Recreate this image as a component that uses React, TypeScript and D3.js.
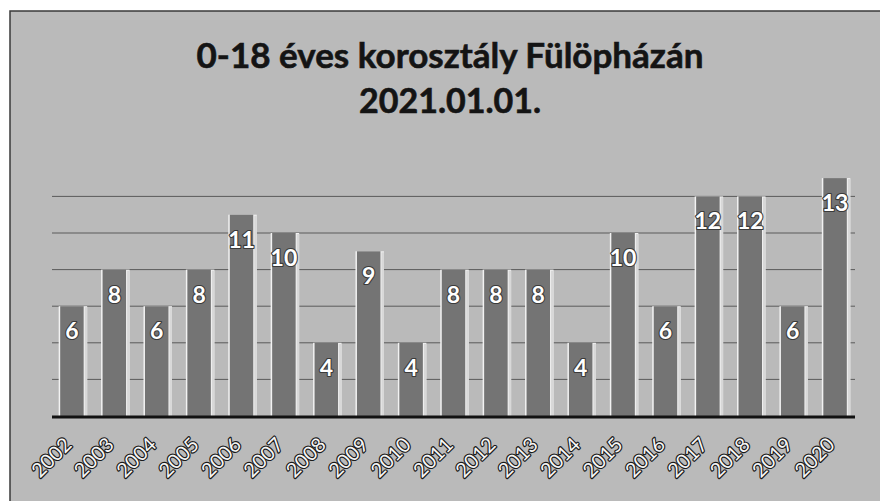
import React from "react";
import * as d3 from "d3";

const years = ["2002","2003","2004","2005","2006","2007","2008","2009","2010","2011","2012","2013","2014","2015","2016","2017","2018","2019","2020"];
const values = [6, 8, 6, 8, 11, 10, 4, 9, 4, 8, 8, 8, 4, 10, 6, 12, 12, 6, 13];
const gridTicks = [2, 4, 6, 8, 10, 12];
const titleLines = ["0-18 éves korosztály Fülöpházán", "2021.01.01."];

const W = 880, H = 501;

export default function App() {
  const x = d3.scaleBand<string>().domain(years).range([52, 855]).paddingInner(0.446).paddingOuter(0.193);
  const y = d3.scaleLinear().domain([0, 14]).range([416, 416 - 14 * 18.3]);
  const bw = x.bandwidth();
  return (
    <svg width={W} height={H} style={{ position: "absolute", left: 0, top: 0, background: "#ffffff" }}>
      <defs>
        <radialGradient id="glare" cx="0.5" cy="0" r="0.5">
          <stop offset="0" stopColor="#ffffff" stopOpacity="0.95" />
          <stop offset="0.6" stopColor="#ffffff" stopOpacity="0.6" />
          <stop offset="1" stopColor="#ffffff" stopOpacity="0" />
        </radialGradient>
      </defs>
      <rect x={10} y={11} width={W} height={H} fill="#bababa" stroke="#3a3a3a" strokeWidth={1.5} />
      <ellipse cx={445} cy={11} rx={150} ry={40} fill="url(#glare)" />
      {titleLines.map((t, i) => (
        <text key={t} x={450} y={68 + i * 45} textAnchor="middle" fontFamily="Lato, 'Open Sans', sans-serif" fontWeight={700} fontSize={i === 0 ? 35 : 34} fill="#141414" stroke="#141414" strokeWidth={0.6}>{t}</text>
      ))}
      {gridTicks.map(v => (
        <line key={v} x1={52} x2={855} y1={y(v)} y2={y(v)} stroke="#5a5a5a" strokeWidth={1} />
      ))}
      {years.map((yr, i) => {
        const bx = x(yr)!;
        const top = y(values[i]);
        return (
          <g key={yr}>
            <rect x={bx - 1.5} y={top} width={bw + 5} height={y(0) - top} fill="#f2f2f2" />
            <rect x={bx + bw + 1} y={top + 1} width={2.5} height={y(0) - top - 1} fill="#d8d8d8" />
            <rect x={bx} y={top} width={bw} height={y(0) - top} fill="#747474" />
            <text x={bx + bw / 2} y={top + 33} textAnchor="middle" fontFamily="Lato, 'Open Sans', sans-serif" fontWeight={700} fontSize={23} fill="#ffffff" stroke="#3a3a3a" strokeWidth={2.2} paintOrder="stroke" strokeLinejoin="round">{values[i]}</text>
          </g>
        );
      })}
      <line x1={52} x2={855} y1={y(0) + 1} y2={y(0) + 1} stroke="#111" strokeWidth={3} />
      {years.map(yr => {
        const cx = x(yr)! + bw / 2 + 1;
        return (
          <text key={yr} x={cx} y={446} transform={`rotate(-45, ${cx}, 446)`} textAnchor="end" fontFamily="Lato, 'Open Sans', sans-serif" fontWeight={400} fontSize={20} fill="#f6f6f6" stroke="#1a1a1a" strokeWidth={2.4} paintOrder="stroke" strokeLinejoin="round">{yr}</text>
        );
      })}
    </svg>
  );
}
